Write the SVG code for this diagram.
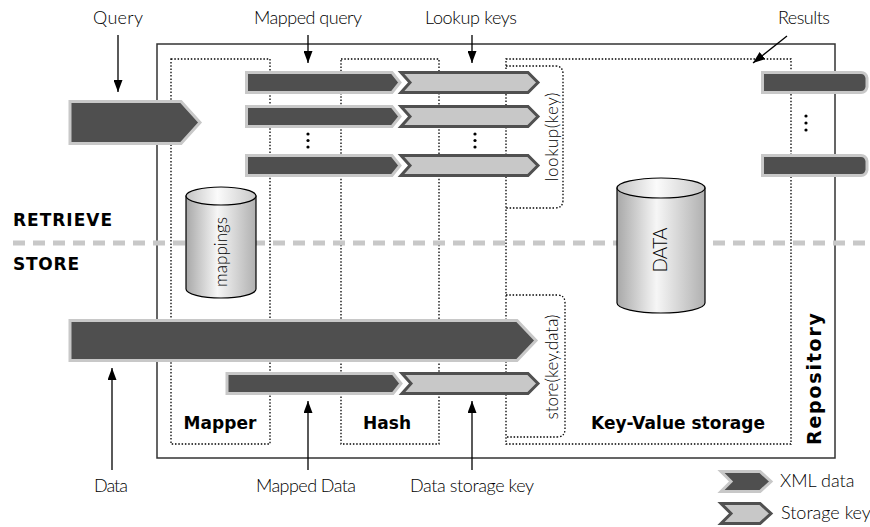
<svg xmlns="http://www.w3.org/2000/svg" width="870" height="527" viewBox="0 0 870 527">
<style>
.lbl{font-family:Lato,"Open Sans","Liberation Sans",sans-serif;font-size:18px;font-weight:300;fill:#000}
.bold{font-family:"DejaVu Sans","Open Sans","Liberation Sans",sans-serif;font-size:17px;font-weight:bold;fill:#000}
.dot{fill:none;stroke:#000;stroke-width:1.3;stroke-dasharray:1.5 1.8}
.xml{fill:#4f4f4f;stroke:#c8c8c8;stroke-width:3;stroke-linejoin:miter}
.key{fill:#c8c8c8;stroke:#505050;stroke-width:3;stroke-linejoin:miter}
.conn{fill:none;stroke:#000;stroke-width:1.3}
.dots{fill:#000}
.cyl{stroke:#000;stroke-width:1.2}
</style>
<defs>
<marker id="ah" markerUnits="userSpaceOnUse" markerWidth="12" markerHeight="9" refX="12" refY="4.5" orient="auto">
<path d="M0,0 L12,4.5 L0,9 Z" fill="#000"/>
</marker>
<linearGradient id="cg" x1="0" y1="0" x2="1" y2="0">
<stop offset="0" stop-color="#a8a8a8"/>
<stop offset="0.45" stop-color="#f6f6f6"/>
<stop offset="1" stop-color="#b0b0b0"/>
</linearGradient>
<linearGradient id="ctop" x1="0" y1="0" x2="1" y2="0">
<stop offset="0" stop-color="#c4c4c4"/>
<stop offset="0.45" stop-color="#fbfbfb"/>
<stop offset="1" stop-color="#c8c8c8"/>
</linearGradient>
</defs>
<rect width="870" height="527" fill="#fff"/>

<g id="repository">
<rect x="157" y="44" width="678" height="414" fill="none" stroke="#333" stroke-width="1.5"/>
<text class="bold" transform="translate(821,379) rotate(-90)" text-anchor="middle" textLength="132" style="font-size:19px">Repository</text>
</g>

<g id="mapper">
<rect class="dot" x="171" y="59" width="99" height="385"/>
<text class="bold" x="220" y="429" text-anchor="middle" textLength="73">Mapper</text>
</g>
<g id="hash">
<rect class="dot" x="341" y="59" width="98" height="385"/>
<text class="bold" x="387" y="429" text-anchor="middle" textLength="48">Hash</text>
</g>
<g id="kvstorage">
<rect class="dot" x="506" y="59" width="285" height="385"/>
<text class="bold" x="678" y="429" text-anchor="middle" textLength="174">Key-Value storage</text>
</g>
<g id="lookup">
<path class="dot" d="M506,66 H555 Q563,66 563,74 V200 Q563,208 555,208 H506"/>
<text class="lbl" style="font-size:17px" transform="translate(558,137) rotate(-90)" text-anchor="middle" textLength="89">lookup(key)</text>
</g>
<g id="store">
<path class="dot" d="M506,295 H557 Q565,295 565,303 V429 Q565,437 557,437 H506"/>
<text class="lbl" style="font-size:17px" transform="translate(558,367) rotate(-90)" text-anchor="middle" textLength="105">store(key,data)</text>
</g>

<g id="divider">
<line x1="13" y1="243" x2="870" y2="243" stroke="#c8c8c8" stroke-width="5" stroke-dasharray="12 8"/>
<text class="bold" x="13" y="226" textLength="99">RETRIEVE</text>
<text class="bold" x="13" y="270" textLength="66">STORE</text>
</g>

<g id="mappings">
<path class="cyl" fill="url(#cg)" d="M186,196 V289 A35,9 0 0 0 256,289 V196 Z"/>
<ellipse class="cyl" fill="url(#ctop)" cx="221" cy="196" rx="35" ry="9"/>
<text class="lbl" style="font-size:17px" transform="translate(227,252) rotate(-90)" text-anchor="middle" textLength="70">mappings</text>
</g>

<g id="data">
<path class="cyl" fill="url(#cg)" d="M617,188 V303 A44,10 0 0 0 705,303 V188 Z"/>
<ellipse class="cyl" fill="url(#ctop)" cx="661" cy="188" rx="44" ry="10"/>
<text class="lbl" style="font-size:19px" transform="translate(667,250) rotate(-90)" text-anchor="middle" textLength="45">DATA</text>
</g>

<g id="query-arrow">
<path class="xml" d="M70,101.5 L181,101.5 L200,122.5 L181,143.5 L70,143.5 Z"/>
</g>
<g id="mapped-query">
<path class="xml" d="M246.5,72.5 L392,72.5 L400,82.5 L392,92.5 L246.5,92.5 Z"/>
<path class="xml" d="M246.5,106.5 L392,106.5 L400,116.5 L392,126.5 L246.5,126.5 Z"/>
<path class="xml" d="M246.5,155.5 L392,155.5 L400,165.5 L392,175.5 L246.5,175.5 Z"/>
<circle class="dots" cx="308" cy="134" r="1.6"/>
<circle class="dots" cx="308" cy="140.5" r="1.6"/>
<circle class="dots" cx="308" cy="147" r="1.6"/>
</g>
<g id="lookup-keys">
<path class="key" d="M401,72.5 L528,72.5 L538,82.5 L528,92.5 L401,92.5 L410,82.5 Z"/>
<path class="key" d="M401,106.5 L528,106.5 L538,116.5 L528,126.5 L401,126.5 L410,116.5 Z"/>
<path class="key" d="M401,155.5 L528,155.5 L538,165.5 L528,175.5 L401,175.5 L410,165.5 Z"/>
<circle class="dots" cx="475" cy="134" r="1.6"/>
<circle class="dots" cx="475" cy="140.5" r="1.6"/>
<circle class="dots" cx="475" cy="147" r="1.6"/>
</g>
<g id="results">
<path class="xml" d="M762.5,72.5 L861,72.5 Q866,72.5 867,78 L867,87 Q866,92.5 861,92.5 L762.5,92.5 Z"/>
<path class="xml" d="M762.5,155.5 L861,155.5 Q866,155.5 867,161 L867,170 Q866,175.5 861,175.5 L762.5,175.5 Z"/>
<circle class="dots" cx="806" cy="116" r="1.6"/>
<circle class="dots" cx="806" cy="123" r="1.6"/>
<circle class="dots" cx="806" cy="130" r="1.6"/>
</g>

<g id="data-arrow">
<path class="xml" d="M70,320.5 L517,320.5 L536,340.5 L517,360.5 L70,360.5 Z"/>
</g>
<g id="mapped-data">
<path class="xml" d="M227,373.5 L393,373.5 L401,383.5 L393,393.5 L227,393.5 Z"/>
</g>
<g id="data-storage-key">
<path class="key" d="M402,373.5 L528,373.5 L538,383.5 L528,393.5 L402,393.5 L411,383.5 Z"/>
</g>

<g id="connectors">
<line class="conn" x1="118" y1="35" x2="118" y2="92" marker-end="url(#ah)"/>
<line class="conn" x1="308" y1="35" x2="308" y2="63" marker-end="url(#ah)"/>
<line class="conn" x1="472" y1="35" x2="472" y2="63" marker-end="url(#ah)"/>
<line class="conn" x1="787" y1="36" x2="753" y2="63" marker-end="url(#ah)"/>
<line class="conn" x1="112" y1="470" x2="112" y2="368" marker-end="url(#ah)"/>
<line class="conn" x1="308" y1="470" x2="308" y2="401" marker-end="url(#ah)"/>
<line class="conn" x1="472" y1="470" x2="472" y2="401" marker-end="url(#ah)"/>
</g>

<g id="labels">
<text class="lbl" x="118" y="24" text-anchor="middle" textLength="50">Query</text>
<text class="lbl" x="308" y="24" text-anchor="middle" textLength="108">Mapped query</text>
<text class="lbl" x="471" y="24" text-anchor="middle" textLength="92">Lookup keys</text>
<text class="lbl" x="804" y="24" text-anchor="middle" textLength="52">Results</text>
<text class="lbl" x="111" y="492" text-anchor="middle" textLength="34">Data</text>
<text class="lbl" x="306" y="492" text-anchor="middle" textLength="100">Mapped Data</text>
<text class="lbl" x="472" y="492" text-anchor="middle" textLength="124">Data storage key</text>
</g>

<g id="legend">
<path class="xml" d="M721,471.5 L760,471.5 L771,481.5 L760,491.5 L721,491.5 L731,481.5 Z"/>
<text class="lbl" x="780" y="487">XML data</text>
<path class="key" d="M721,503.5 L760,503.5 L771,513.5 L760,523.5 L721,523.5 L731,513.5 Z"/>
<text class="lbl" x="781" y="519">Storage key</text>
</g>
</svg>
